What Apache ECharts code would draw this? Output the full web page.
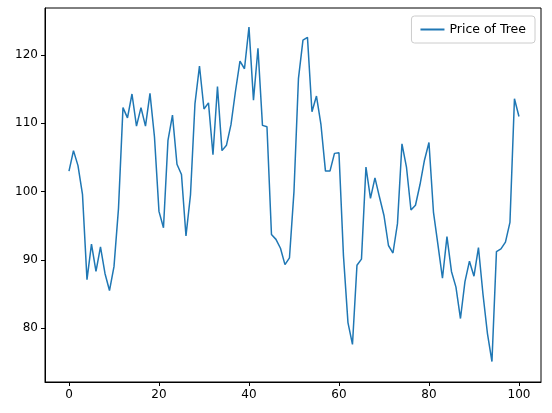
<!DOCTYPE html><html><head><meta charset="utf-8"><script src="https://cdn.jsdelivr.net/npm/echarts@6/dist/echarts.min.js"></script>
<style>html,body{margin:0;padding:0;background:#fff}#c{width:552px;height:413px}</style></head><body><div id="c"></div><script>
const xTicks=[0,20,40,60,80,100];
const yTicks=[80,90,100,110,120];
const priceOfTree=[103,106,103.8,99.6,87.1,92.3,88.3,91.9,88,85.5,89,97.5,112.3,110.8,114.3,109.6,112.3,109.6,114.4,108,97.1,94.7,107.5,111.2,104,102.5,93.5,99.5,112.9,118.4,112.1,113,105.4,115.4,106,106.8,109.8,114.7,119.1,118,124.1,113.4,121,109.7,109.5,93.7,93,91.7,89.3,90.3,100,116.6,122.2,122.6,111.7,114,109.8,103,103,105.6,105.7,90.6,80.8,77.6,89.2,90.1,103.6,99,102,99.2,96.5,92.1,91,95.3,107,103.6,97.3,98,101,104.6,107.2,97,92.2,87.3,93.4,88.3,86,81.4,86.8,89.8,87.6,91.8,85,79.2,75.1,91.2,91.6,92.6,95.5,113.6,111];
const data=priceOfTree.map((v,i)=>[i,v]);
const ax={axisLine:{show:true,onZero:false,lineStyle:{color:'#000',width:1}},axisTick:{show:true,length:4,lineStyle:{color:'#000'}},axisLabel:{color:'#000',fontSize:12,fontFamily:'DejaVu Sans'},splitLine:{show:false}};
const ch=echarts.init(document.getElementById('c'));
ch.setOption({animation:false,
grid:{left:45,right:11,top:8,bottom:31,show:true,borderColor:'#000',borderWidth:1},
legend:{right:17,top:16,itemWidth:24,itemHeight:2,itemGap:8,icon:'rect',borderColor:'#ccc',borderWidth:1,borderRadius:3,padding:[7,9],textStyle:{fontSize:12.5,fontFamily:'DejaVu Sans',color:'#000'}},
xAxis:Object.assign({type:'value',min:-5.33,max:104.9},ax,{axisTick:Object.assign({},ax.axisTick,{customValues:xTicks}),axisLabel:Object.assign({},ax.axisLabel,{customValues:xTicks,margin:7})}),
yAxis:Object.assign({type:'value',min:72.1,max:126.9},ax,{axisTick:Object.assign({},ax.axisTick,{customValues:yTicks}),axisLabel:Object.assign({},ax.axisLabel,{customValues:yTicks,margin:7})}),
series:[{name:'Price of Tree',type:'line',data:data,showSymbol:false,lineStyle:{color:'#1f77b4',width:1.5},itemStyle:{color:'#1f77b4'}}]
});
</script></body></html>
